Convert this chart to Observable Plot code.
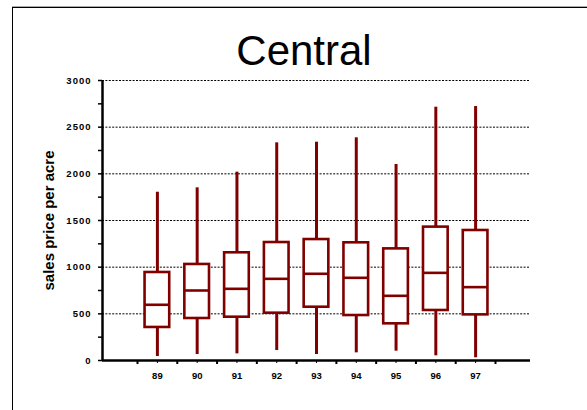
<!DOCTYPE html>
<html>
<head>
<meta charset="utf-8">
<script src="https://cdn.jsdelivr.net/npm/d3@7"></script>
<script src="https://cdn.jsdelivr.net/npm/@observablehq/plot@0.6"></script>
<style>
  body { margin: 0; background: #fff; }
  #wrap { position: relative; width: 587px; height: 410px; overflow: hidden; background: #fff; font-family: "Liberation Sans", Arial, sans-serif; }
  #frame { position: absolute; left: 12px; top: 7px; width: 620px; height: 450px; border-left: 1px solid #000; border-top: 1px solid #000; box-shadow: 0 -1px 0 #aaa; }
  #title { position: absolute; left: 0; width: 608px; top: 30px; font-size: 42px; line-height: 42px; text-align: center; color: #000; }
  #chart { position: absolute; left: 0; top: 0; }
  g[aria-label="y-axis tick label"] text { letter-spacing: 1px; }
</style>
</head>
<body>
<div id="wrap">
  <div id="frame"></div>
  <div id="title">Central</div>
  <div id="chart"></div>
</div>
<script>
const years   = [89, 90, 91, 92, 93, 94, 95, 96, 97];
const mins    = [43, 64, 71, 107, 64, 82, 100, 50, 29];
const q1s     = [354, 450, 464, 507, 571, 482, 393, 536, 489];
const medians = [597, 750, 768, 875, 929, 886, 693, 939, 786];
const q3s     = [943, 1029, 1154, 1264, 1296, 1261, 1196, 1429, 1393];
const maxs    = [1803, 1850, 2018, 2332, 2339, 2386, 2100, 2714, 2721];

const yTickLabels = [0, 500, 1000, 1500, 2000, 2500, 3000];
const yGridTicks = [500, 1000, 1500, 2000, 2500, 3000];
const yMinorTicks = [250, 750, 1250, 1750, 2250, 2750];
const xMinorTicks = [88.5, 89.5, 90.5, 91.5, 92.5, 93.5, 94.5, 95.5, 96.5, 97.5];
const xDomain = [87.62, 98.38];
const yDomain = [0, 3000];
const yLabel = "sales price per acre";

const rows = years.map((year, i) => ({
  year, min: mins[i], q1: q1s[i], median: medians[i], q3: q3s[i], max: maxs[i]
}));

const red = "#800000";
const half = 0.31;

const chart = Plot.plot({
  width: 587,
  height: 410,
  marginLeft: 102,
  marginRight: 57,
  marginTop: 80,
  marginBottom: 50,
  style: { fontFamily: "'Liberation Sans', Arial, sans-serif", background: "transparent" },
  x: { domain: xDomain, axis: null },
  y: { domain: yDomain, axis: null },
  marks: [
    Plot.gridY(yGridTicks, { stroke: "#000", strokeOpacity: 1, strokeWidth: 1, strokeDasharray: "2,1.4" }),
    Plot.ruleX(rows, { x: "year", y1: "min", y2: "max", stroke: red, strokeWidth: 3 }),
    Plot.rect(rows, { x1: d => d.year - half, x2: d => d.year + half, y1: "q1", y2: "q3", fill: "#fff", stroke: red, strokeWidth: 2.6 }),
    Plot.ruleY(rows, { y: "median", x1: d => d.year - half, x2: d => d.year + half, stroke: red, strokeWidth: 2.6 }),
    Plot.axisY(yTickLabels, { tickSize: 4, tickPadding: 7, tickFormat: d => String(d), fontSize: 9.5, fontWeight: "bold", label: null, stroke: "#000", strokeWidth: 1.5 }),
    Plot.axisY(yMinorTicks, { tickSize: 4, tickFormat: null, text: null, label: null, stroke: "#000", strokeWidth: 1.5 }),
    Plot.axisX(years, { tickSize: 3, tickPadding: 9, tickFormat: d => String(d), fontSize: 9.5, fontWeight: "bold", label: null, stroke: "#000", strokeWidth: 1 }),
    Plot.axisX(xMinorTicks, { tickSize: 4, tickFormat: null, text: null, label: null, stroke: "#000", strokeWidth: 2 }),
    Plot.ruleX([xDomain[0]], { stroke: "#000", strokeWidth: 2.5 }),
    Plot.ruleY([yDomain[0]], { stroke: "#000", strokeWidth: 2.5 }),
    Plot.text([yLabel], { text: d => d, frameAnchor: "left", textAnchor: "middle", rotate: -90, dx: -53, fontSize: 15, fontWeight: "bold", fill: "#000" })
  ]
});
document.getElementById("chart").appendChild(chart);
</script>
</body>
</html>
